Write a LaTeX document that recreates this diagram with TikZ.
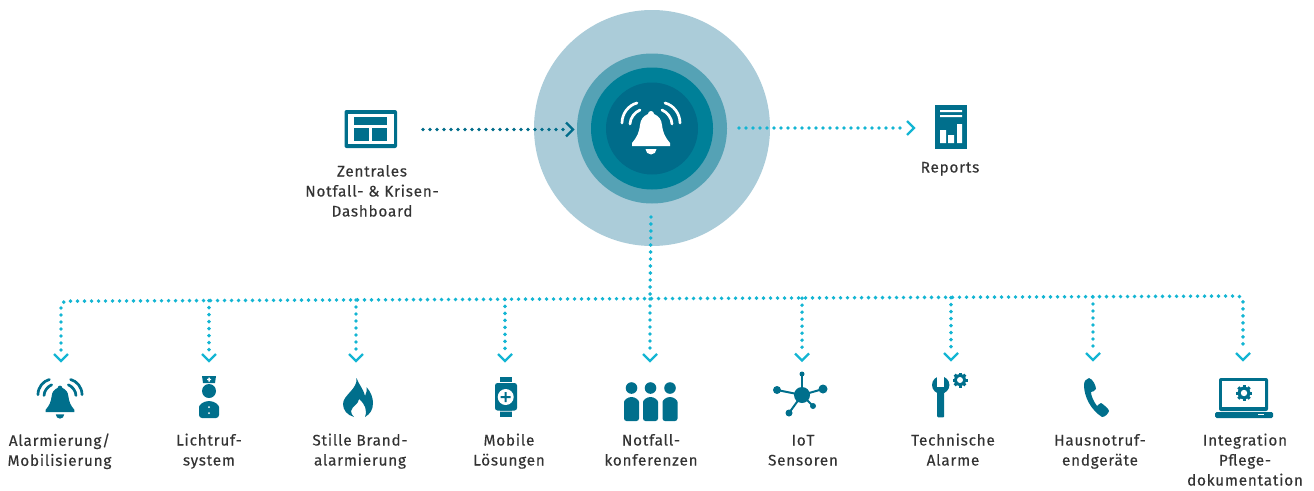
\documentclass[tikz,border=0pt]{standalone}
\usepackage{fontspec}
\setmainfont[LetterSpace=5,FakeBold=0.25]{Fira Sans}
\usetikzlibrary{calc}
\definecolor{ringA}{HTML}{ABCCD9}
\definecolor{ringB}{HTML}{55A2B5}
\definecolor{ringC}{HTML}{008098}
\definecolor{ringD}{HTML}{006C8A}
\definecolor{iconc}{HTML}{006F8C}
\definecolor{cyanc}{HTML}{13B5D3}
\definecolor{textc}{HTML}{333333}
\newcommand\ts{\rule{0pt}{12pt}}
\tikzset{
  x=1pt,y=-1pt,
  lbl/.style={inner sep=0pt,anchor=north,align=center,text=textc,font=\fontsize{15.3}{20}\selectfont},
  dots/.style={line width=3.9pt,line cap=round,dash pattern=on 0pt off 7pt,cyanc},
  chev/.style={line width=2.3pt,cyanc,line cap=butt,line join=miter},
  pics/bell/.style={code={
    \fill[#1] (-3,-14) arc[start angle=180,end angle=360,radius=3] -- (3,-14)
      .. controls (8,-12) and (10.5,-8) .. (11,-3) .. controls (12,5) and (14,9) .. (19,15) -- (19,18)
      -- (-19,18) -- (-19,15) .. controls (-14,9) and (-12,5) .. (-11,-3)
      .. controls (-10.5,-8) and (-8,-12) .. (-3,-14) -- cycle;
    \fill[#1] (-5.5,21) -- (5.5,21) arc[start angle=0,end angle=180,radius=5.5] -- cycle;
    \draw[#1,line width=2.7pt,fill=none,line cap=round] (-29,-5) .. controls (-29,-15) and (-22,-23) .. (-14,-25);
    \draw[#1,line width=2.7pt,fill=none,line cap=round] (-21,-4) .. controls (-21,-10) and (-16,-16) .. (-11,-18);
    \draw[#1,line width=2.7pt,fill=none,line cap=round] (29,-5) .. controls (29,-15) and (22,-23) .. (14,-25);
    \draw[#1,line width=2.7pt,fill=none,line cap=round] (21,-4) .. controls (21,-10) and (16,-16) .. (11,-18);
  }},
  pics/gear/.style={code={
    \foreach \a in {0,45,...,315}
      \draw[iconc,line width=3pt] (\a:0.55*#1) -- (\a:#1);
    \fill[iconc] (0,0) circle[radius=0.8*#1];
    \fill[white] (0,0) circle[radius=0.4*#1];
  }},
}
\begin{document}
\begin{tikzpicture}
\useasboundingbox (0,0) rectangle (1314,490);
% rings
\fill[ringA] (652,128) circle[radius=118];
\fill[ringB] (652,128.5) circle[radius=75];
\fill[ringC] (652,128.5) circle[radius=61];
\node[circle,fill=ringD,minimum size=92pt,inner sep=0pt] (hub) at (652,128.5) {};
\pic at (651,128) {bell=white};

% dashboard icon
\fill[iconc,rounded corners=2pt] (344.5,110) rectangle (397,148);
\fill[white] (348,113.5) rectangle (394,144);
\fill[iconc] (354,117) rectangle (387,125);
\fill[iconc] (354,128) rectangle (369,141);
\fill[iconc] (372,128) rectangle (387,141);
\node[lbl] (dash) at (372,164.3) {\ts Zentrales\\Notfall- \& Krisen-\\Dashboard};

% reports icon
\fill[iconc] (935,105) rectangle (967,149);
\fill[white] (940,110) rectangle (962,112) (940,115) rectangle (962,117);
\fill[white] (940,130) rectangle (946,143) (948,135) rectangle (954,143) (957,124) rectangle (962,143);
\node[lbl] (rep) at (950,160.3) {\ts Reports};

% top connectors
\coordinate (ds) at (423,129.5);
\coordinate (de) at (566,129.5);
\coordinate (dt) at (573,129.5);
\draw[dots,ringD] (ds) -- (de);
\draw[chev,ringD] ($(dt)+(-7,-7)$) -- (dt) -- ($(dt)+(-7,7)$);
\coordinate (rs) at (739,128);
\coordinate (re) at (905,128);
\coordinate (rt) at (914,128);
\draw[dots] (rs) -- (re);
\draw[chev] ($(rt)+(-7,-7)$) -- (rt) -- ($(rt)+(-7,7)$);

% bus
\coordinate (t0) at (651,217);
\coordinate (t1) at (650,299);
\draw[dots] (t0) -- (t1);
\coordinate (bl) at (61,301.2);
\coordinate (br) at (1243,296);
\draw[dots,rounded corners=5pt] (61,350) -- (bl) -- (br) -- (1243,350);

\foreach \n/\x/\by/\ty in {b/209/300.6/361, c/356/300/361, d/505/299.4/361, e/650/299/361, f/802/298.2/360.5, g/951/297.6/360, h/1093/297/360}{
  \coordinate (\n s) at (\x,\by);
  \coordinate (\n e) at (\x,\ty-10);
  \draw[dots] (\n s) -- (\n e);
}
\foreach \x/\ty in {61/361,209/361,356/361,505/361,650/361,802/360.5,951/360,1093/360,1243/360}{
  \coordinate (tip) at (\x,\ty);
  \draw[chev] ($(tip)+(-7,-7)$) -- (tip) -- ($(tip)+(7,-7)$);
}

% 1 bell
\pic[scale=0.76] at (60,398.5) {bell=iconc};
\node[lbl] (l1) at (59.5,433.3) {\ts Alarmierung/\\Mobilisierung};

% 2 nurse
\fill[iconc] (202,376) -- (216,376) -- (215,383) -- (203,383) -- cycle;
\fill[white] (208.4,377.5) rectangle (209.8,381.5) (207,378.9) rectangle (211.2,380.1);
\fill[iconc] (209,391) circle[radius=7];
\fill[iconc,rounded corners=3pt] (199,418) -- (199,410) arc[start angle=180,end angle=360,radius=10,y radius=9] -- (219,418) -- cycle;
\fill[white] (209,407) circle[radius=1] (209,413) circle[radius=1];
\node[lbl] (l2) at (209,433.3) {\ts Lichtruf-\\system};

% 3 flame
\fill[iconc] (356.5,378) .. controls (359,385) and (363,388) .. (365,396)
  .. controls (366.5,393) and (367,390) .. (366.5,387)
  .. controls (371,392) and (373,398) .. (373,403)
  .. controls (373,410) and (370,414) .. (365,417)
  .. controls (367.5,410) and (365,404) .. (359,399)
  .. controls (359,404) and (352,406) .. (351,411)
  .. controls (351,413) and (352,415) .. (354,417)
  .. controls (347,415) and (343,410) .. (343,404)
  .. controls (343,395) and (358,389) .. (356.5,378) -- cycle;
\node[lbl] (l3) at (360,433.3) {\ts Stille Brand-\\alarmierung};

% 4 watch
\fill[iconc] (500,377.3) rectangle (512,417);
\fill[white] (495,382) rectangle (517,383) (495,410.5) rectangle (517,411.5);
\fill[iconc,rounded corners=2.5pt] (495,383) rectangle (517,410.5);
\fill[white] (505.7,397) circle[radius=8];
\fill[iconc] (504.7,392) rectangle (506.7,402) (500.7,396) rectangle (510.7,398);
\node[lbl] (l4) at (509,433.3) {\ts Mobile\\Lösungen};

% 5 people
\foreach \cx in {631.5,650.5,670}{
  \fill[iconc] (\cx,388) circle[radius=5.8];
  \fill[iconc,rounded corners=2.5pt] (\cx-7.5,421) -- (\cx-7.5,404.5) arc[start angle=180,end angle=360,radius=7.5] -- (\cx+7.5,421) -- cycle;
}
\node[lbl] (l5) at (651,433.3) {\ts Notfall-\\konferenzen};

% 6 IoT
\coordinate (io) at (802,395);
\foreach \sx/\sy/\sr in {802/374/2.5,777/390/4,823/389/4.5,813/406/3,789/413/3.5}{
  \draw[iconc,line width=2pt] (io) -- (\sx,\sy);
  \fill[iconc] (\sx,\sy) circle[radius=\sr];
}
\fill[iconc] (io) circle[radius=8];
\node[lbl] (l6) at (803,433.3) {\ts IoT\\Sensoren};

% 7 wrench + gear
\fill[iconc] (940.7,385) circle[radius=8.7];
\fill[white] (937.2,375) rectangle (944.2,386.5);
\fill[iconc,rounded corners=1pt] (937.2,388) rectangle (944.2,417.3);
\pic at (960,380) {gear=7.5};
\node[lbl] (l7) at (953,433.3) {\ts Technische\\Alarme};

% 8 phone
\fill[iconc] (1089,378) .. controls (1086,379) and (1084,381) .. (1084,385)
  .. controls (1084,397) and (1091,410) .. (1102,417)
  .. controls (1105,417) and (1108,414) .. (1109,411)
  .. controls (1109,409) and (1103,404) .. (1101,403)
  .. controls (1099,404) and (1098,405) .. (1097,406)
  .. controls (1094,402) and (1091,396) .. (1091,392)
  .. controls (1092,392) and (1095,391) .. (1096,389)
  .. controls (1096,386) and (1093,379) .. (1089,378) -- cycle;
\node[lbl] (l8) at (1100,433.3) {\ts Hausnotruf-\\endgeräte};

% 9 laptop
\fill[iconc,rounded corners=2pt] (1219,378) rectangle (1268,411);
\fill[white] (1222,381) rectangle (1265,407);
\fill[iconc,rounded corners=1.5pt] (1215,412) rectangle (1273,418);
\fill[white] (1258,414) rectangle (1264,415.3);
\pic at (1244,393) {gear=8};
\node[lbl] (l9) at (1245,433.3) {\ts Integration\\Pflege-\\dokumentation};
\end{tikzpicture}
\end{document}
